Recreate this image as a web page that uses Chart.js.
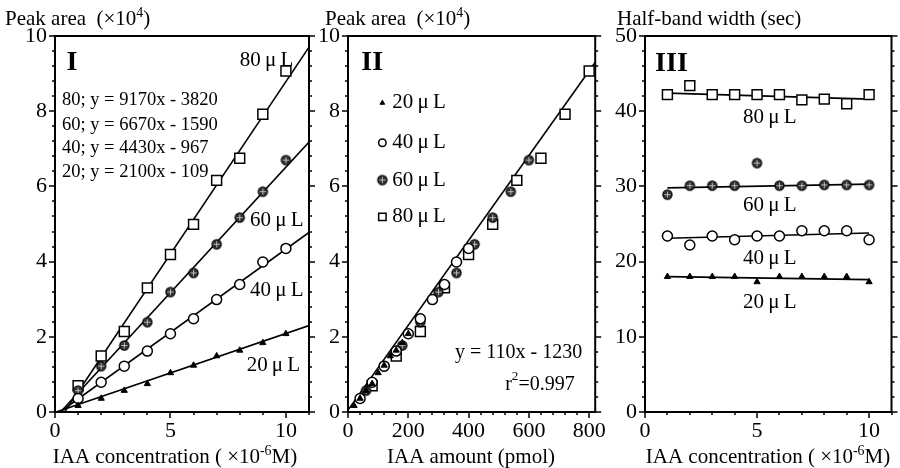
<!DOCTYPE html>
<html>
<head>
<meta charset="utf-8">
<script src="https://cdn.jsdelivr.net/npm/chart.js@4.4.0/dist/chart.umd.min.js"></script>
<style>
  body { margin: 0; background: #fff; width: 900px; height: 468px; position: relative; overflow: hidden; }
  canvas { position: absolute; top: 0; }
</style>
</head>
<body>
<canvas id="c1" width="322" height="468" style="left:0"></canvas>
<canvas id="c2" width="300" height="468" style="left:312px"></canvas>
<canvas id="c3" width="295" height="468" style="left:605px"></canvas>
<script>
const SERIF = "'Liberation Serif', 'Times New Roman', serif";

// data
const conc = [1, 2, 3, 4, 5, 6, 7, 8, 9, 10];            // x 10^-6 M
const volumes = [20, 40, 60, 80];                        // uL
const area20 = [0.17, 0.36, 0.57, 0.75, 1.04, 1.24, 1.49, 1.64, 1.84, 2.08];  // x 10^4
const area40 = [0.36, 0.79, 1.22, 1.62, 2.08, 2.48, 2.99, 3.39, 3.99, 4.35];
const area60 = [0.57, 1.22, 1.77, 2.39, 3.19, 3.70, 4.46, 5.17, 5.86, 6.70];
const area80 = [0.70, 1.49, 2.14, 3.30, 4.19, 4.99, 6.16, 6.75, 7.92, 9.07];
const slopes = [2100, 4430, 6670, 9170];                 // printed regressions
const intercepts = [-109, -967, -1590, -3820];
const amount20 = [20, 40, 60, 80, 100, 120, 140, 160, 180, 200];   // pmol
const amount40 = [40, 80, 120, 160, 200, 240, 280, 320, 360, 400];
const amount60 = [60, 120, 180, 240, 300, 360, 420, 480, 540, 600];
const amount80 = [80, 160, 240, 320, 400, 480, 560, 640, 720, 800];
const amountFitX = [0, 820];
const amountFitY = [0.05, 9.3];
const width20 = [18.0, 18.0, 18.0, 18.0, 17.3, 18.0, 18.0, 18.0, 18.0, 17.3];  // sec
const width40 = [23.4, 22.2, 23.4, 22.9, 23.4, 23.4, 24.1, 24.1, 24.1, 22.9];
const width60 = [28.9, 30.1, 30.1, 30.1, 33.1, 30.1, 30.1, 30.2, 30.2, 30.2];
const width80 = [42.2, 43.4, 42.2, 42.2, 42.2, 42.2, 41.5, 41.6, 41.0, 42.2];
const widthFitX = [1, 10];
const widthFit20 = [18.0, 17.6];
const widthFit40 = [23.1, 23.8];
const widthFit60 = [29.8, 30.3];
const widthFit80 = [42.4, 41.6];
const areaTicks = [0, 2, 4, 6, 8, 10];
const concTicks = [0, 5, 10];
const amountTicks = [0, 200, 400, 600, 800];
const widthTicks = [0, 10, 20, 30, 40, 50];

const pts = (xs, ys) => xs.map((x, i) => ({ x: x, y: ys[i] }));

function plusCircle(r) {
  const c = document.createElement('canvas');
  const s = Math.ceil(2 * r + 3);
  c.width = c.height = s;
  const g = c.getContext('2d');
  const m = s / 2;
  g.beginPath();
  g.arc(m, m, r, 0, Math.PI * 2);
  g.fillStyle = '#333';
  g.fill();
  g.lineWidth = 1.2;
  g.strokeStyle = '#000';
  g.stroke();
  g.strokeStyle = '#bbb';
  g.lineWidth = 1;
  g.beginPath();
  g.moveTo(m - r + 1.5, m); g.lineTo(m + r - 1.5, m);
  g.moveTo(m, m - r + 1.5); g.lineTo(m, m + r - 1.5);
  g.stroke();
  return c;
}

const markers = {
  20: { pointStyle: 'triangle', pointRadius: 3.6, pointBackgroundColor: '#000', pointBorderColor: '#000', pointBorderWidth: 1 },
  40: { pointStyle: 'circle', pointRadius: 5, pointBackgroundColor: '#fff', pointBorderColor: '#000', pointBorderWidth: 1.5 },
  60: { pointStyle: plusCircle(4.6), pointRadius: 5, pointBackgroundColor: '#333', pointBorderColor: '#000', pointBorderWidth: 1 },
  80: { pointStyle: 'rect', pointRadius: 7, pointBackgroundColor: '#fff', pointBorderColor: '#000', pointBorderWidth: 1.5 }
};

function scatterSet(vol, xs, ys) {
  return Object.assign({ type: 'scatter', data: pts(xs, ys), showLine: false, order: 1 }, markers[vol]);
}
function lineSet(xs, ys) {
  return { type: 'line', data: pts(xs, ys), borderColor: '#000', borderWidth: 1.6, pointRadius: 0, fill: false, tension: 0, order: 2 };
}

function drawRich(ctx, x, y, parts, size, align, bold) {
  const w = parts.map(p => {
    ctx.font = (bold ? 'bold ' : '') + (p.sup ? size * 0.66 : size) + 'px ' + SERIF;
    return ctx.measureText(p.t).width;
  });
  const total = w.reduce((a, b) => a + b, 0);
  let cx = align === 'center' ? x - total / 2 : align === 'right' ? x - total : x;
  ctx.textAlign = 'left';
  parts.forEach((p, i) => {
    ctx.font = (bold ? 'bold ' : '') + (p.sup ? size * 0.66 : size) + 'px ' + SERIF;
    ctx.fillText(p.t, cx, p.sup ? y - size * 0.4 : y);
    cx += w[i];
  });
}

const deco = {
  id: 'deco',
  afterDraw(chart, args, o) {
    const ctx = chart.ctx, a = chart.chartArea;
    const xs = chart.scales.x, ys = chart.scales.y;
    ctx.save();
    ctx.strokeStyle = '#000';
    ctx.lineWidth = 2;
    ctx.strokeRect(a.left, a.top, a.right - a.left, a.bottom - a.top);
    ctx.lineWidth = 1.5;
    ctx.beginPath();
    for (let i = 0; i * o.yMinor <= ys.max + 1e-9; i++) {
      const v = i * o.yMinor;
      const major = Math.abs(v / o.yMajor - Math.round(v / o.yMajor)) < 1e-6;
      const len = major ? 6 : 3;
      const p = Math.round(ys.getPixelForValue(v));
      ctx.moveTo(a.left - len, p); ctx.lineTo(a.left, p);
      ctx.moveTo(a.right, p); ctx.lineTo(a.right + len, p);
    }
    for (let i = 0; i * o.xMinor <= xs.max + 1e-9; i++) {
      const v = i * o.xMinor;
      const major = Math.abs(v / o.xMajor - Math.round(v / o.xMajor)) < 1e-6;
      const len = major ? 6 : 3;
      const p = Math.round(xs.getPixelForValue(v));
      ctx.moveTo(p, a.bottom); ctx.lineTo(p, a.bottom + len);
    }
    ctx.stroke();
    ctx.fillStyle = '#000';
    ctx.textBaseline = 'middle';
    (o.texts || []).forEach(t => {
      drawRich(ctx, xs.getPixelForValue(t.x), ys.getPixelForValue(t.y), t.parts, t.size, t.align, t.bold);
    });
    (o.legend || []).forEach(l => {
      const px = xs.getPixelForValue(l.x), py = ys.getPixelForValue(l.y);
      const m = markers[l.vol];
      ctx.fillStyle = m.pointBackgroundColor;
      ctx.strokeStyle = m.pointBorderColor;
      ctx.lineWidth = m.pointBorderWidth;
      Chart.helpers.drawPoint(ctx, { pointStyle: m.pointStyle, radius: m.pointRadius * 0.75, rotation: 0, borderWidth: m.pointBorderWidth }, px, py);
      ctx.fillStyle = '#000';
      drawRich(ctx, px + 10, py, l.parts, 21, 'left');
    });
    ctx.textBaseline = 'alphabetic';
    (o.titles || []).forEach(t => {
      drawRich(ctx, t.px - o.offsetX, t.py, t.parts, t.size, t.align);
    });
    ctx.restore();
  }
};

function axis(ticksArr, min, max, fitSize, horizontal) {
  return {
    type: 'linear', min: min, max: max,
    afterBuildTicks: s => { s.ticks = ticksArr.map(v => ({ value: v })); },
    afterFit: s => { if (horizontal) s.height = fitSize; else s.width = fitSize; },
    ticks: { color: '#000', font: { family: SERIF, size: 22 }, padding: horizontal ? 6 : 8, maxRotation: 0, autoSkip: false },
    grid: { display: false, drawTicks: false },
    border: { display: false }
  };
}

function makePanel(id, offsetX, datasets, xAxis, yAxis, padRight, deOpts) {
  deOpts.offsetX = offsetX;
  return new Chart(document.getElementById(id), {
    type: 'scatter',
    data: { datasets: datasets },
    options: {
      responsive: false,
      animation: false,
      layout: { padding: { top: 36, right: padRight, left: 0, bottom: 0 } },
      plugins: { legend: { display: false }, tooltip: { enabled: false }, deco: deOpts },
      scales: { x: xAxis, y: yAxis }
    },
    plugins: [deco]
  });
}

const uL = n => [{ t: n + '\u2009μ\u2009L' }];

// Panel I
const areas = [area20, area40, area60, area80];
const fitLines1 = slopes.map((m, i) => {
  const x0 = -intercepts[i] / m;
  const x1 = 11;
  return lineSet([x0, x1], [0, (m * x1 + intercepts[i]) / 1e4]);
});
makePanel('c1', 0,
  fitLines1.concat(volumes.map((v, i) => scatterSet(v, conc, areas[i]))),
  axis(concTicks, 0, 11, 56, true),
  axis(areaTicks, 0, 10, 55, false),
  13,
  {
    yMinor: 0.4, yMajor: 2, xMinor: 1, xMajor: 5,
    texts: [
      { x: 0.5, y: 9.28, parts: [{ t: 'I' }], size: 28, bold: true, align: 'left' },
      { x: 0.3, y: 8.3, parts: [{ t: '80; y = 9170x - 3820' }], size: 18.5, align: 'left' },
      { x: 0.3, y: 7.64, parts: [{ t: '60; y = 6670x - 1590' }], size: 18.5, align: 'left' },
      { x: 0.3, y: 7.02, parts: [{ t: '40; y = 4430x - 967' }], size: 18.5, align: 'left' },
      { x: 0.3, y: 6.38, parts: [{ t: '20; y = 2100x - 109' }], size: 18.5, align: 'left' },
      { x: 8.0, y: 9.36, parts: uL(80), size: 21, align: 'left' },
      { x: 8.45, y: 5.1, parts: uL(60), size: 21, align: 'left' },
      { x: 8.45, y: 3.24, parts: uL(40), size: 21, align: 'left' },
      { x: 8.3, y: 1.25, parts: uL(20), size: 21, align: 'left' }
    ],
    titles: [
      { px: 5, py: 25, parts: [{ t: 'Peak area  (×10' }, { t: '4', sup: true }, { t: ')' }], size: 21, align: 'left' },
      { px: 175, py: 463, parts: [{ t: 'IAA concentration ( ×10' }, { t: '-6', sup: true }, { t: 'M)' }], size: 21, align: 'center' }
    ]
  });

// Panel II
const amounts = [amount20, amount40, amount60, amount80];
makePanel('c2', 312,
  [lineSet(amountFitX, amountFitY)].concat(volumes.map((v, i) => scatterSet(v, amounts[i], areas[i]))),
  axis(amountTicks, 0, 820, 56, true),
  axis(areaTicks, 0, 10, 36, false),
  13,
  {
    yMinor: 0.4, yMajor: 2, xMinor: 40, xMajor: 200,
    texts: [
      { x: 44, y: 9.28, parts: [{ t: 'II' }], size: 28, bold: true, align: 'left' },
      { x: 777, y: 1.57, parts: [{ t: 'y = 110x - 1230' }], size: 20, align: 'right' },
      { x: 752, y: 0.72, parts: [{ t: 'r' }, { t: '2', sup: true }, { t: '=0.997' }], size: 20, align: 'right' }
    ],
    legend: [
      { x: 114, y: 8.22, vol: 20, parts: uL(20) },
      { x: 114, y: 7.16, vol: 40, parts: uL(40) },
      { x: 114, y: 6.17, vol: 60, parts: uL(60) },
      { x: 114, y: 5.19, vol: 80, parts: uL(80) }
    ],
    titles: [
      { px: 325, py: 25, parts: [{ t: 'Peak area  (×10' }, { t: '4', sup: true }, { t: ')' }], size: 21, align: 'left' },
      { px: 471, py: 463, parts: [{ t: 'IAA amount (pmol)' }], size: 21, align: 'center' }
    ]
  });

// Panel III
const widths = [width20, width40, width60, width80];
const widthFits = [widthFit20, widthFit40, widthFit60, widthFit80];
makePanel('c3', 605,
  widthFits.map(f => lineSet(widthFitX, f)).concat(volumes.map((v, i) => scatterSet(v, conc, widths[i]))),
  axis(concTicks, 0, 11, 56, true),
  axis(widthTicks, 0, 50, 40, false),
  2,
  {
    yMinor: 2, yMajor: 10, xMinor: 1, xMajor: 5,
    texts: [
      { x: 0.45, y: 46.3, parts: [{ t: 'III' }], size: 28, bold: true, align: 'left' },
      { x: 5.57, y: 39.2, parts: uL(80), size: 21, align: 'center' },
      { x: 5.57, y: 27.5, parts: uL(60), size: 21, align: 'center' },
      { x: 5.57, y: 20.4, parts: uL(40), size: 21, align: 'center' },
      { x: 5.57, y: 14.5, parts: uL(20), size: 21, align: 'center' }
    ],
    titles: [
      { px: 617, py: 25, parts: [{ t: 'Half-band width (sec)' }], size: 21, align: 'left' },
      { px: 768, py: 463, parts: [{ t: 'IAA concentration ( ×10' }, { t: '-6', sup: true }, { t: 'M)' }], size: 21, align: 'center' }
    ]
  });
</script>
</body>
</html>
